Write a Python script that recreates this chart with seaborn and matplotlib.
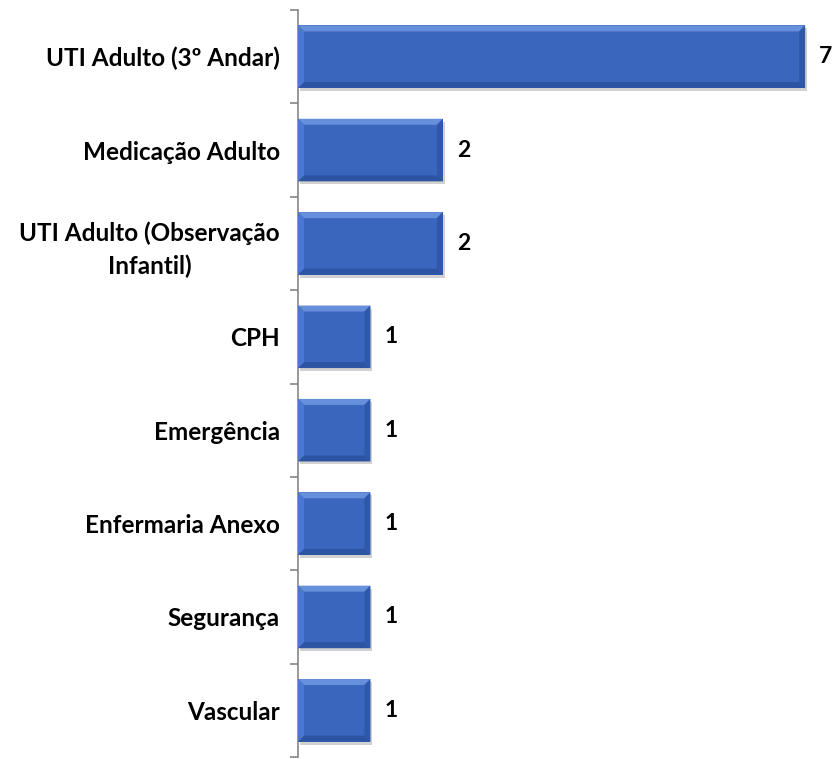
import numpy as np
import pandas as pd
import seaborn as sns
import matplotlib.pyplot as plt
from matplotlib.patches import Polygon, Rectangle
from matplotlib.transforms import offset_copy

# chart data
setores = ['UTI Adulto (3º Andar)', 'Medicação Adulto', 'UTI Adulto (Observação\nInfantil)',
           'CPH', 'Emergência', 'Enfermaria Anexo', 'Segurança', 'Vascular']
ocorrencias = [7, 2, 2, 1, 1, 1, 1, 1]

df = pd.DataFrame({'setor': setores, 'n': ocorrencias})

sns.set_style('white')
plt.rcParams['font.family'] = ['Lato', 'DejaVu Sans']
plt.rcParams['text.color'] = 'black'
plt.rcParams['ytick.labelcolor'] = 'black'

fig = plt.figure(figsize=(8.37, 7.59), dpi=100)
ax = fig.add_axes([298 / 837, 2 / 759, 539 / 837, 747 / 759])

face = '#3a66be'
sns.barplot(data=df, x='n', y='setor', orient='h', color=face, width=0.67,
            saturation=1, ax=ax, zorder=3)

ax.set_xlim(0, 7.44)
ax.set_ylim(len(setores) - 0.5, -0.5)

# bevel + shadow, built from the bar patches seaborn drew
bx = 6 / 72.4
by = 6 / 93.4
for p in list(ax.patches):
    x0, y0 = p.get_x(), p.get_y()
    w, h = p.get_width(), p.get_height()
    x1, y1 = x0 + w, y0 + h  # y1 is visually lower (inverted axis)
    p.set_edgecolor('none')
    sh = Rectangle((x0, y0), w, h, facecolor='#9a9a9a', alpha=0.45, edgecolor='none', zorder=2,
                   transform=offset_copy(ax.transData, fig=fig, x=2, y=-3, units='dots'))
    ax.add_patch(sh)
    top = Polygon([(x0, y0), (x1, y0), (x1 - bx, y0 + by), (x0 + bx, y0 + by)],
                  facecolor='#6690dc', edgecolor='none', zorder=4)
    bot = Polygon([(x0, y1), (x1, y1), (x1 - bx, y1 - by), (x0 + bx, y1 - by)],
                  facecolor='#2c54a3', edgecolor='none', zorder=4)
    lft = Polygon([(x0, y0), (x0 + bx, y0 + by), (x0 + bx, y1 - by), (x0, y1)],
                  facecolor='#4a78cf', edgecolor='none', zorder=4)
    rgt = Polygon([(x1, y0), (x1 - bx, y0 + by), (x1 - bx, y1 - by), (x1, y1)],
                  facecolor='#2f58a8', edgecolor='none', zorder=4)
    for poly in (top, bot, lft, rgt):
        ax.add_patch(poly)

# value labels
for i, v in enumerate(ocorrencias):
    ax.annotate(str(v), (v, i), xytext=(10, 0), textcoords='offset points',
                ha='left', va='center', fontsize=16.5, fontweight='bold', color='black',
                annotation_clip=False, zorder=5)

# axes styling
for s in ['top', 'right', 'bottom']:
    ax.spines[s].set_visible(False)
ax.spines['left'].set_color('#868686')
ax.spines['left'].set_linewidth(1.2)
ax.set_xticks([])
ax.set_xlabel('')
ax.set_ylabel('')
ax.set_yticks(np.arange(-0.5, len(setores), 1), minor=True)
ax.tick_params(axis='y', which='major', length=0, pad=13, labelcolor='black')
ax.tick_params(axis='y', which='minor', length=6, width=1.2, color='#868686', left=True)
for lab in ax.get_yticklabels():
    lab.set_fontweight('bold')
    lab.set_fontsize(17.5)
    lab.set_multialignment('center')
    lab.set_linespacing(1.45)

fig.savefig('out.png', dpi=100)
